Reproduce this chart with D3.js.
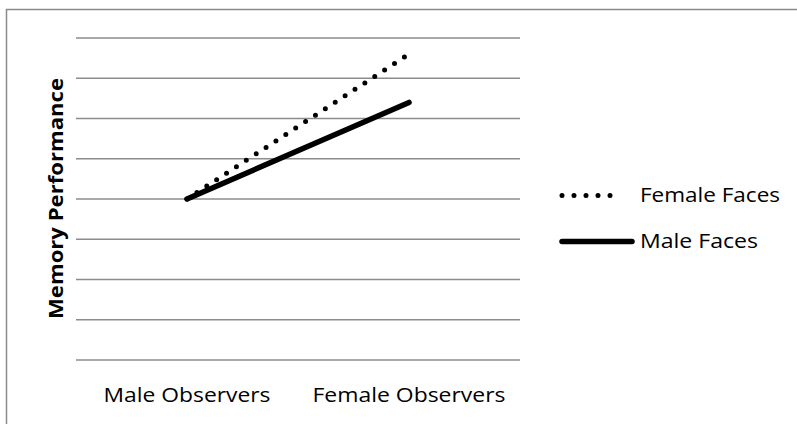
<!DOCTYPE html>
<html>
<head>
<meta charset="utf-8">
<script src="https://cdn.jsdelivr.net/npm/d3@7"></script>
<style>
  html, body { margin: 0; padding: 0; background: #fff; }
  svg { display: block; }
  text { font-family: "Open Sans", Lato, "DejaVu Sans", sans-serif; fill: #000; }
</style>
</head>
<body>
<svg id="chart" width="797" height="424"></svg>
<script>
// ---- data ----
const categories = ["Male Observers", "Female Observers"];
const seriesNames = ["Female Faces", "Male Faces"];
const femaleFaces = [4.0, 7.6];
const maleFaces = [4.0, 6.4];
const yTicks = [0, 1, 2, 3, 4, 5, 6, 7, 8];
const yLabel = "Memory Performance";

const svg = d3.select("#chart");

// outer border (chart area frame)
svg.append("rect")
  .attr("x", 6.5).attr("y", 9.5)
  .attr("width", 820).attr("height", 430)
  .attr("fill", "none").attr("stroke", "#8a8a8a").attr("stroke-width", 1.5);

const x = d3.scaleBand().domain(categories).range([76, 520]);
const cx = c => x(c) + x.bandwidth() / 2;
const y = d3.scaleLinear().domain([0, 8]).range([360, 38]);

// gridlines
svg.append("g").selectAll("line").data(yTicks).join("line")
  .attr("x1", 76).attr("x2", 520)
  .attr("y1", d => y(d)).attr("y2", d => y(d))
  .attr("stroke", "#8c8c8c").attr("stroke-width", 1.4);

// category labels
const catWidths = { "Male Observers": 167, "Female Observers": 193 };
svg.append("g").selectAll("text").data(categories).join("text")
  .attr("x", d => cx(d))
  .attr("y", 402)
  .attr("text-anchor", "middle")
  .attr("font-size", 19.5)
  .attr("textLength", d => catWidths[d])
  .attr("lengthAdjust", "spacingAndGlyphs")
  .text(d => d);

// y axis title
svg.append("text")
  .attr("transform", "translate(63,198.5) rotate(-90)")
  .attr("text-anchor", "middle")
  .attr("font-size", 20)
  .attr("font-weight", "bold")
  .attr("textLength", 241)
  .attr("lengthAdjust", "spacingAndGlyphs")
  .text(yLabel);

const line = d3.line().x((d, i) => cx(categories[i])).y(d => y(d));

// female faces: dotted
svg.append("path")
  .datum(femaleFaces)
  .attr("d", line)
  .attr("fill", "none").attr("stroke", "#000")
  .attr("stroke-width", 5)
  .attr("stroke-linecap", "round")
  .attr("stroke-dasharray", "0 11.8");

// male faces: solid
svg.append("path")
  .datum(maleFaces)
  .attr("d", line)
  .attr("fill", "none").attr("stroke", "#000")
  .attr("stroke-width", 5.5)
  .attr("stroke-linecap", "round");

// legend
const legendY = [195.5, 241.5];
const legendWidths = [140, 118];
const lg = svg.append("g");
seriesNames.forEach((name, i) => {
  const ly = legendY[i];
  const l = lg.append("line")
    .attr("x1", 562).attr("x2", i === 0 ? 622 : 632)
    .attr("y1", ly).attr("y2", ly)
    .attr("stroke", "#000")
    .attr("stroke-linecap", "round");
  if (i === 0) {
    l.attr("stroke-width", 5).attr("stroke-dasharray", "0 12");
  } else {
    l.attr("stroke-width", 5.5);
  }
  lg.append("text")
    .attr("x", 640).attr("y", ly + 6.5)
    .attr("font-size", 19.5)
    .attr("textLength", legendWidths[i])
    .attr("lengthAdjust", "spacingAndGlyphs")
    .text(name);
});
</script>
</body>
</html>
